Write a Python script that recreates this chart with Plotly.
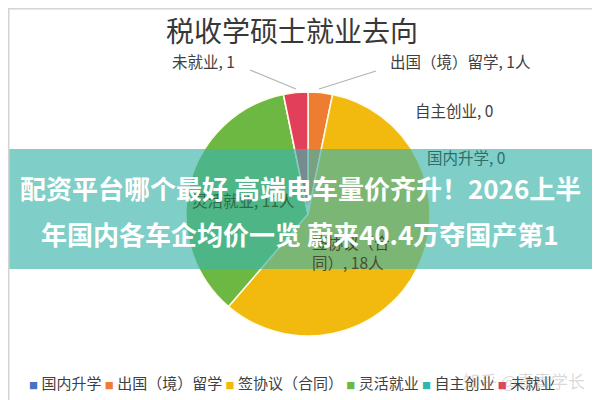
import plotly.graph_objects as go

# ---- data ----
categories = ["国内升学", "出国（境）留学", "签协议（合同）", "灵活就业", "自主创业", "未就业"]
values = [0, 1, 18, 11, 0, 1]
units = ["", "人", "人", "人", "", ""]
colors = ["#4472C4", "#EE7D31", "#F2B90F", "#6DB843", "#2EB7AE", "#E2405A"]

title_text = "税收学硕士就业去向"
banner_lines = ["配资平台哪个最好 高端电车量价齐升！2026上半",
                "年国内各车企均价一览 蔚来40.4万夺国产第1"]
watermark = "知乎 @青青学长"

FONT = "Noto Sans CJK SC"
W, H = 600, 400
DX = -8  # horizontal correction for text placement


def px(x, y):
    return (x + DX) / W, 1 - y / H


label_texts = [f"{c}, {v}{u}" for c, v, u in zip(categories, values, units)]
label_texts[2] = label_texts[2][:5] + "<br>" + label_texts[2][5:]

# label placements: (x, y, xanchor, colour)
label_pos = {
    0: (425, 149, "left", "#2d6e68"),
    1: (388, 53, "left", "#404040"),
    2: (310, 244, "left", "#4a4a30"),
    3: (190, 192, "left", "#2f6a45"),
    4: (413, 102, "left", "#404040"),
    5: (237, 53, "right", "#404040"),
}

fig = go.Figure(go.Pie(
    labels=categories,
    values=values,
    marker=dict(colors=colors, line=dict(color="#FFFBEA", width=1.5)),
    sort=False,
    direction="clockwise",
    rotation=0,
    textinfo="none",
    hoverinfo="skip",
    showlegend=False,
    domain=dict(x=[0, 1], y=[1 - 328 / H, 1 - 84 / H]),
))

annotations = []
for i, (x, y, xa, col) in label_pos.items():
    ax, ay = px(x, y)
    annotations.append(dict(
        x=ax, y=ay, xref="paper", yref="paper", text=label_texts[i],
        showarrow=False, font=dict(family=FONT, size=15.5, color=col),
        xanchor=xa, yanchor="middle", align="left",
    ))

# title
tx, ty = px(292, 22)
annotations.append(dict(x=tx, y=ty, xref="paper", yref="paper", text=title_text,
                        showarrow=False, font=dict(family=FONT, size=28, color="#383838"),
                        xanchor="center", yanchor="middle"))
# banner text
for line, yy in zip(banner_lines, [179, 226]):
    bx, by = px(300, yy)
    annotations.append(dict(x=bx, y=by, xref="paper", yref="paper", text=f"<b>{line}</b>",
                            showarrow=False, font=dict(family=FONT, size=26, color="white"),
                            xanchor="center", yanchor="middle"))

# legend line built from the categories / colours
legend_parts = [
    f"<span style='color:{c};font-size:9px'>■</span> {lab}"
    for lab, c in zip(categories, colors)
]
lx, ly = px(292, 374)
annotations.append(dict(x=lx, y=ly, xref="paper", yref="paper", text=" ".join(legend_parts),
                        showarrow=False, font=dict(family=FONT, size=15, color="#404040"),
                        xanchor="center", yanchor="middle"))
# watermark
wx, wy = px(524, 372)
annotations.append(dict(x=wx, y=wy, xref="paper", yref="paper", text=watermark,
                        showarrow=False, font=dict(family=FONT, size=17, color="rgba(150,150,150,0.35)"),
                        xanchor="center", yanchor="middle"))

shapes = []
# leader lines
for (x0, y0, x1, y1) in [(242, 62, 288, 81), (368, 63, 311, 81)]:
    shapes.append(dict(type="line", xref="paper", yref="paper",
                       x0=x0 / W, y0=1 - y0 / H, x1=x1 / W, y1=1 - y1 / H,
                       line=dict(color="#b4b4b4", width=1.3), layer="above"))
# banner overlay
shapes.append(dict(type="rect", xref="paper", yref="paper", x0=0, x1=1,
                   y0=1 - 261 / H, y1=1 - 141 / H,
                   fillcolor="rgba(60,180,170,0.65)", line=dict(width=0), layer="above"))
# frame
shapes.append(dict(type="rect", xref="paper", yref="paper", x0=0, x1=1, y0=0, y1=1,
                   line=dict(color="#d4d4d4", width=3), layer="above"))

fig.update_layout(
    width=W, height=H,
    margin=dict(l=0, r=0, t=0, b=0),
    paper_bgcolor="white",
    plot_bgcolor="white",
    showlegend=False,
    annotations=annotations,
    shapes=shapes,
)

fig.write_html("out.html")
